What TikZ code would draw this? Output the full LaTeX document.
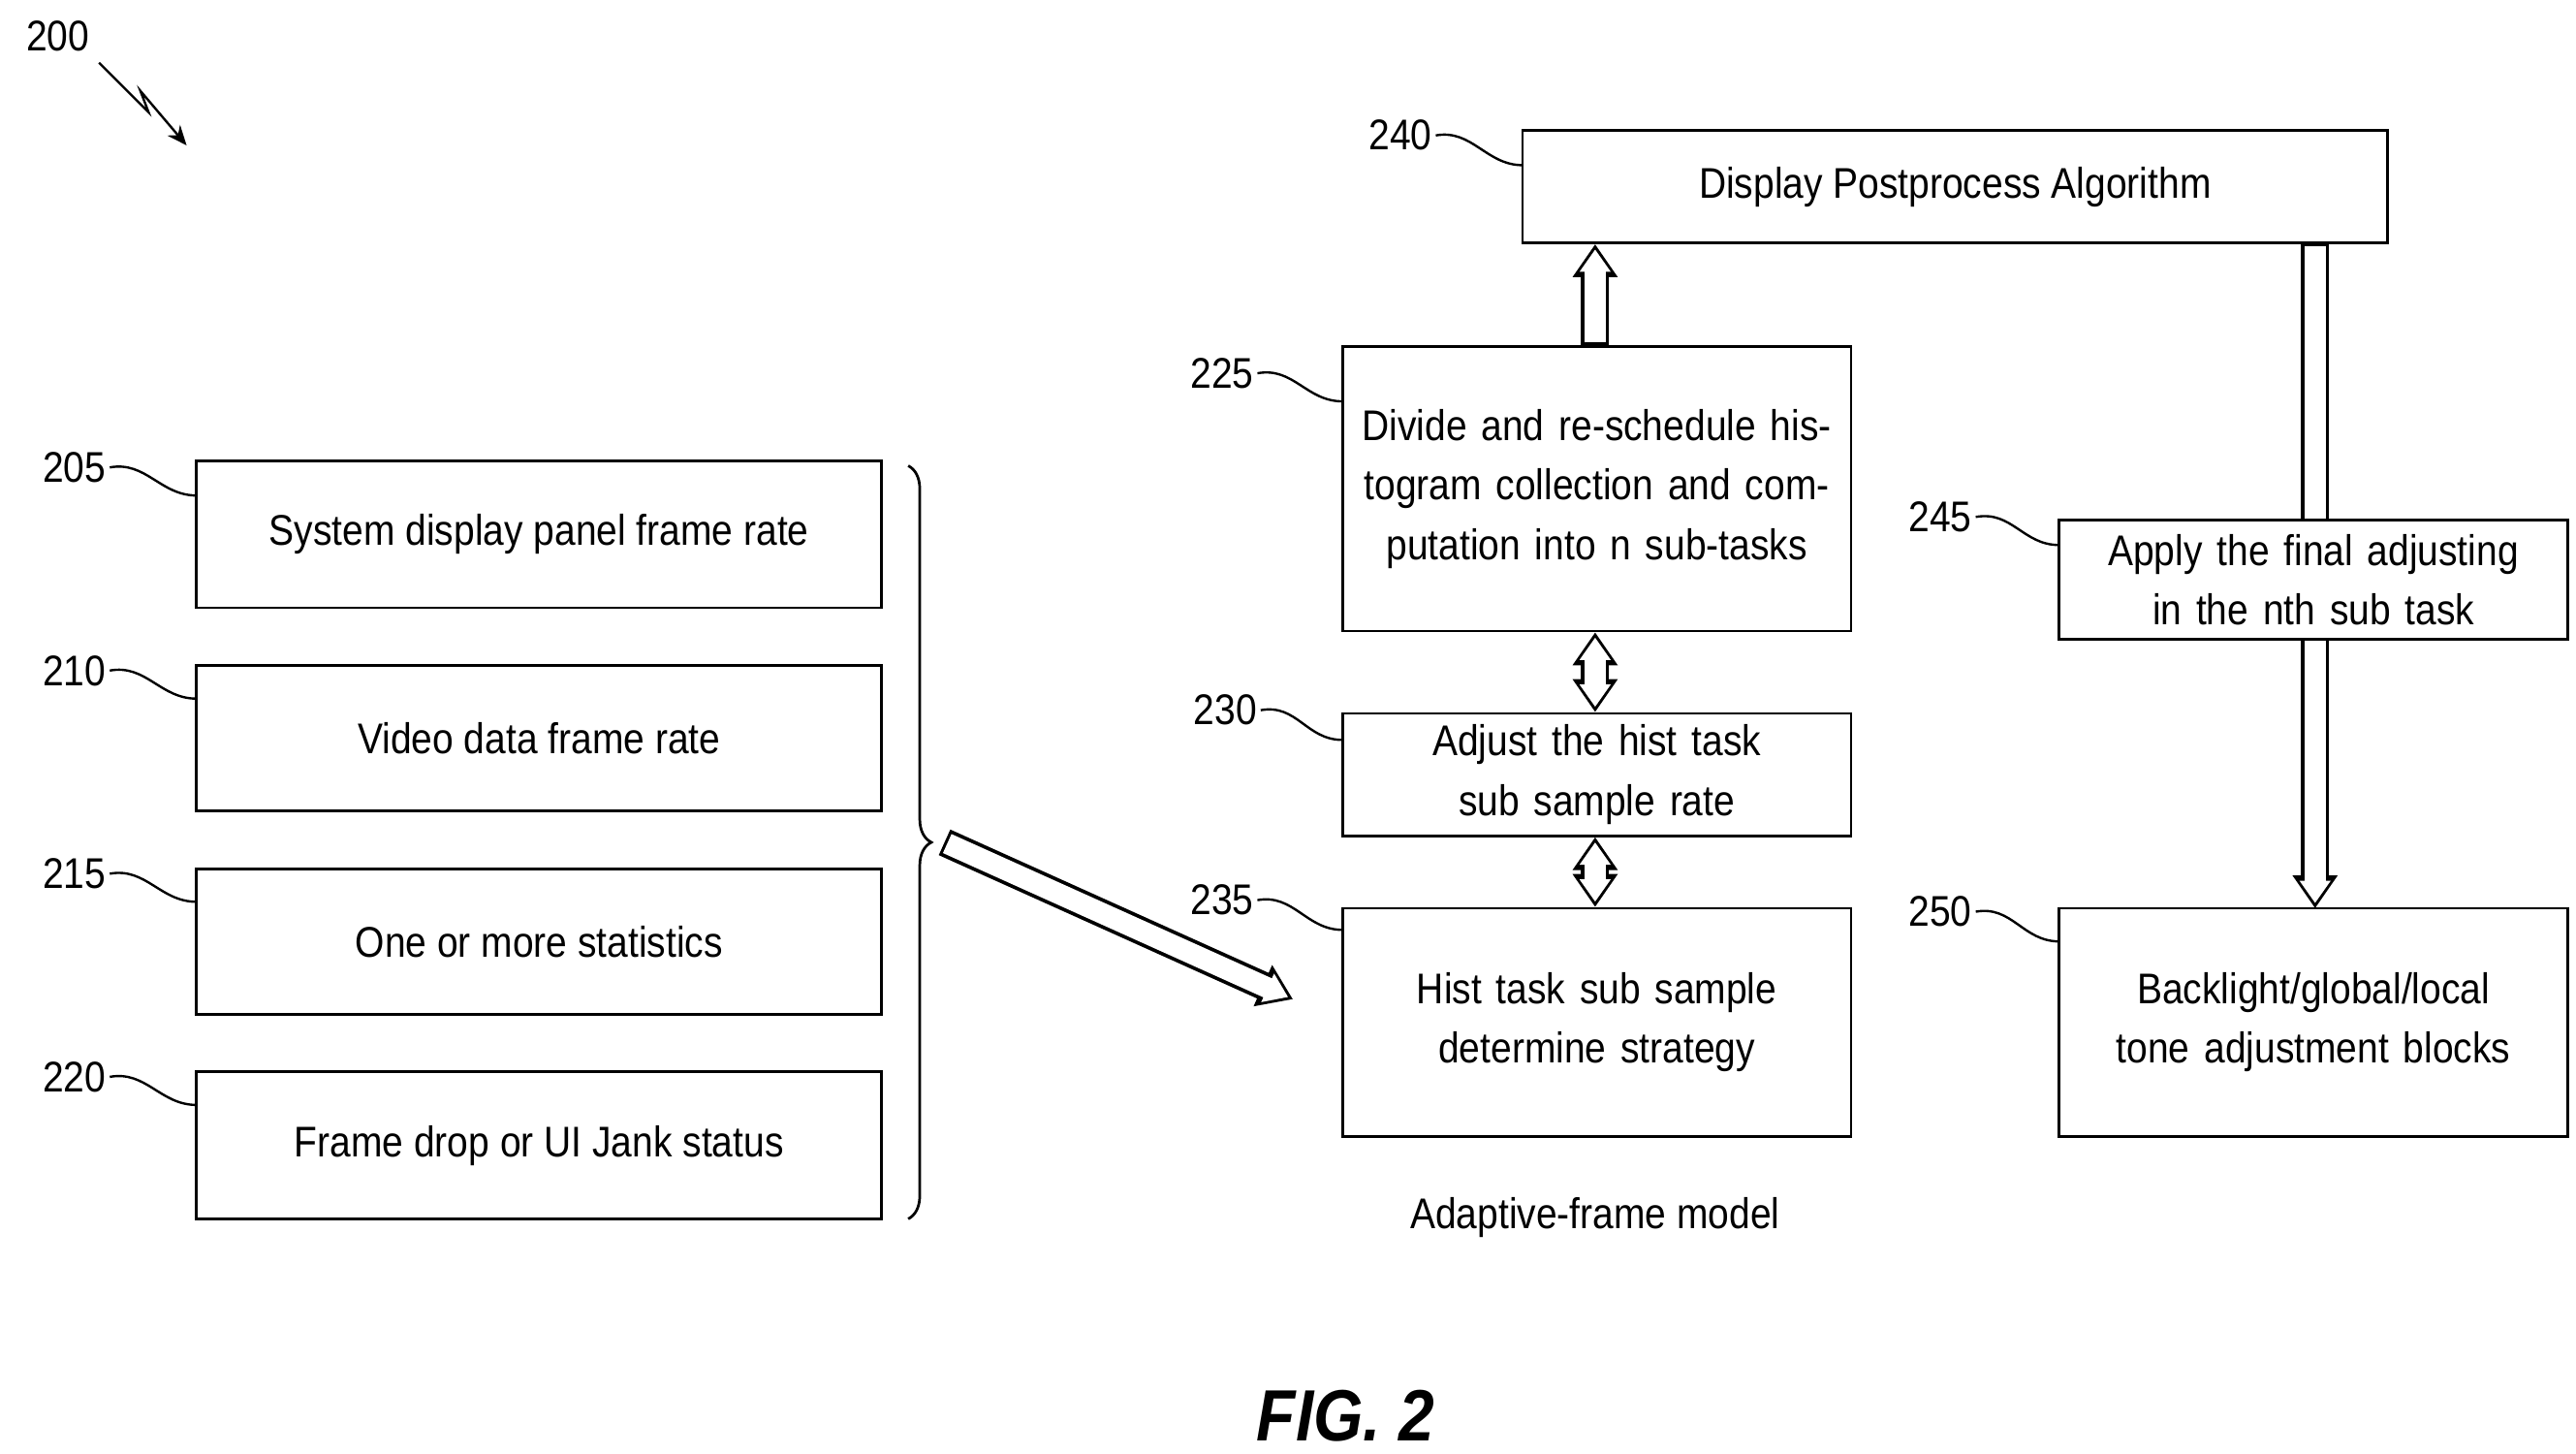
\documentclass[tikz,border=0pt]{standalone}
\usepackage{fontspec}
\setmainfont{Liberation Sans}[FakeStretch=0.88]
\usetikzlibrary{arrows.meta,decorations.pathreplacing,calc}
\begin{document}
\begin{tikzpicture}[x=0.5pt,y=-0.5pt,
  box/.style={draw,line width=0.8pt,fill=white,align=center,inner sep=0pt,font=\fontsize{13}{18}\selectfont},
  lbl/.style={font=\fontsize{13}{15}\selectfont,inner sep=1pt},
  lead/.style={line width=0.7pt},
  hb/.style={line width=8.5pt,-{Triangle[length=10pt,width=13pt]}},
  hw/.style={line width=6.3pt,white,shorten <=0.9pt,shorten >=1.6pt,-{Triangle[length=6.8pt,width=9pt]}},
  hbb/.style={line width=8.5pt,{Triangle[length=10pt,width=13pt]}-{Triangle[length=10pt,width=13pt]}},
  hwb/.style={line width=6.3pt,white,shorten <=1.6pt,shorten >=1.6pt,{Triangle[length=6.8pt,width=9pt]}-{Triangle[length=6.8pt,width=9pt]}}]
\useasboundingbox (0,0) rectangle (1560,880);
% left boxes
\node[box,minimum width=207.5pt,minimum height=44.5pt] (b205) at (326.5,323.5) {System display panel frame rate};
\node[box,minimum width=207.5pt,minimum height=44pt] (b210) at (326.5,447) {Video data frame rate};
\node[box,minimum width=207.5pt,minimum height=44pt] (b215) at (326.5,570) {One or more statistics};
\node[box,minimum width=207.5pt,minimum height=44.5pt] (b220) at (326.5,693.5) {Frame drop or UI Jank status};
% arrows first
\coordinate (c240b) at (966,147);
\coordinate (c250t) at (1402,147);
\coordinate (c250e) at (1402,550);
\draw[hb] (1402,147.5) -- (c250e);
\draw[hw] (1402,147.5) -- (c250e);
% middle
\node[box,minimum width=154pt,minimum height=86pt,text width=145pt] (b225) at (967,296) {Divide and re-schedule histogram collection and computation into n sub-tasks};
\node[box,minimum width=154pt,minimum height=37pt,text width=145pt] (b230) at (967,469) {Adjust the hist task sub sample rate};
\node[box,minimum width=154pt,minimum height=69pt,text width=145pt] (b235) at (967,619) {Hist task sub sample\\determine strategy};
\node[box,minimum width=262pt,minimum height=34pt] (b240) at (1184,113) {Display Postprocess Algorithm};
\node[box,minimum width=154pt,minimum height=36pt,text width=145pt] (b245) at (1401,351) {Apply the final adjusting in the nth sub task};
\node[box,minimum width=154pt,minimum height=69pt,text width=145pt] (b250) at (1401,619) {Backlight/global/local\\tone adjustment blocks};
\draw[hb] (b225.north -| 966,0) -- (b240.south -| 966,0);
\draw[hw] (b225.north -| 966,0) -- (b240.south -| 966,0);
\draw[hbb] (b225.south -| 966,0) -- (b230.north -| 966,0);
\draw[hwb] (b225.south -| 966,0) -- (b230.north -| 966,0);
\draw[hbb] (b230.south -| 966,0) -- (b235.north -| 966,0);
\draw[hwb] (b230.south -| 966,0) -- (b235.north -| 966,0);
% brace and diagonal arrow
\draw[line width=0.8pt,decorate,decoration={brace,amplitude=7pt}] (550,282) -- (550,738);
\coordinate (bt) at (572,510);
\coordinate (ae) at (783,605);
\draw[hb] (bt) -- (ae);
\draw[hw] (bt) -- (ae);
% labels
\node[lbl] (l200) at (35,22) {200};
\draw[line width=0.7pt,-{Stealth[length=6pt,width=5pt]}] (60,38) -- (90,68) -- (85,55) -- (113,88);
\foreach \n/\x/\y/\bx/\by in {205/45/283/119/300,210/45/406/119/423,215/45/529/119/546,220/45/652/119/669,240/848/82/922/100,225/740/226/813/243,230/742/430/813/448,235/740/545/813/563,245/1175/313/1247/330,250/1175/552/1247/570}{
  \node[lbl] (l\n) at (\x,\y) {\n};
  \coordinate (k\n) at (\bx,\by);
  \draw[lead] (l\n.east) .. controls +(22,-4) and +(-22,0) .. (k\n);
}
\node[lbl] (cap) at (966,737) {Adaptive-frame model};
\node[font=\fontsize{22}{24}\selectfont\bfseries\itshape] (fig) at (815,857) {FIG. 2};
\end{tikzpicture}
\end{document}
